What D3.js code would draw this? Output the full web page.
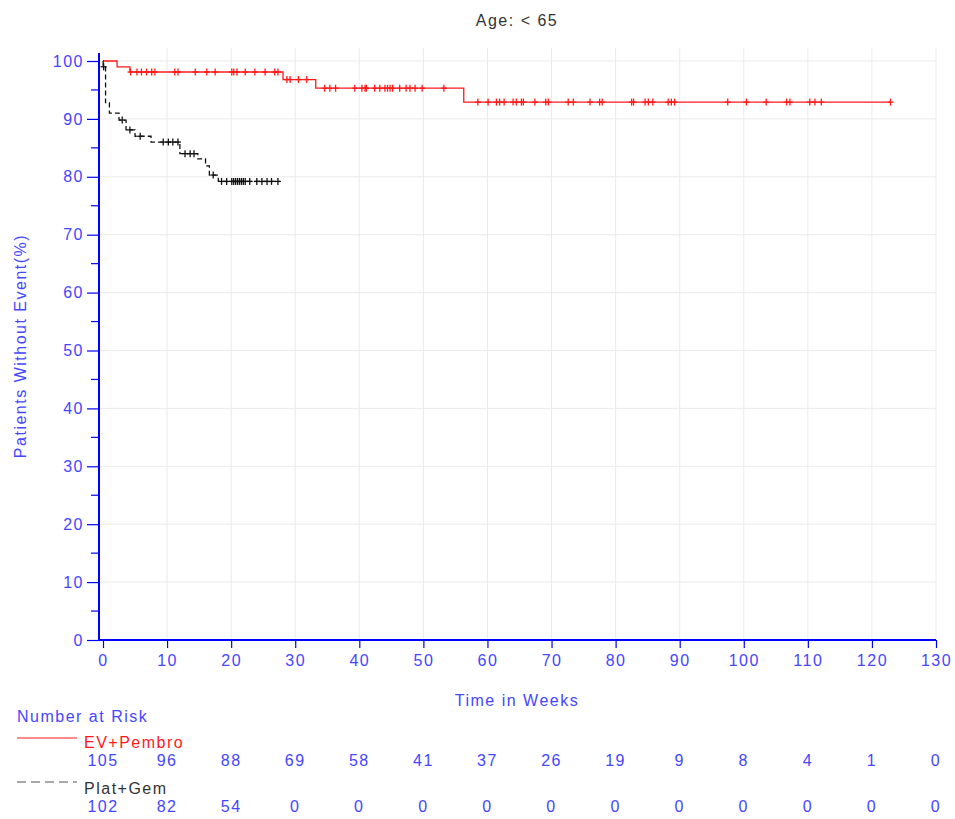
<!DOCTYPE html>
<html>
<head>
<meta charset="utf-8">
<script src="https://cdn.jsdelivr.net/npm/d3@7"></script>
<style>
  body { margin: 0; background: #fff; }
  svg text { font-family: "Liberation Sans", Arial, sans-serif; font-size: 16px; letter-spacing: 1.5px; }
</style>
</head>
<body>
<svg id="chart" width="955" height="819"></svg>
<script>
// ---- data ----
const title = "Age: < 65";
const xTickValues = [0, 10, 20, 30, 40, 50, 60, 70, 80, 90, 100, 110, 120, 130];
const yTickValues = [0, 10, 20, 30, 40, 50, 60, 70, 80, 90, 100];
const yMinorTicks = [5, 15, 25, 35, 45, 55, 65, 75, 85, 95];

// EV+Pembro: step times (weeks) and survival (%) after each step
const evTimes = [0, 2.2, 4.2, 28.1, 33.2, 56.3];
const evSurv = [100, 99.0, 98.1, 96.8, 95.3, 92.9];
const evEnd = 122.9;
const evCensored = [4.3, 5.3, 6.0, 6.8, 7.6, 8.1, 11.2, 11.7, 14.4, 16.2, 17.5, 20.1, 20.4, 20.9,
  22.2, 23.7, 25.3, 26.8, 27.3, 28.7, 29.2, 30.5, 31.8, 34.6, 35.4, 36.3, 39.3, 40.4, 40.9, 41.1,
  42.4, 43.2, 44.0, 44.4, 44.8, 45.2, 46.3, 47.3, 47.9, 48.7, 49.8, 53.2, 58.5, 60.1, 61.4, 61.9,
  62.6, 64.0, 64.5, 65.3, 65.6, 67.4, 69.1, 69.5, 72.6, 73.4, 76.0, 77.5, 77.9, 82.5, 82.8, 84.6,
  85.1, 85.8, 88.2, 88.7, 89.2, 97.5, 100.4, 103.5, 106.7, 107.2, 110.3, 111.1, 112.1, 122.9];

// Plat+Gem
const pgTimes = [0, 0.02, 0.4, 1.0, 2.5, 3.6, 5.0, 7.5, 12.0, 14.8, 16.0, 16.6, 18.0];
const pgSurv = [100, 99.0, 92.8, 91.0, 89.8, 88.1, 87.0, 86.0, 84.0, 83.1, 81.9, 80.3, 79.2];
const pgEnd = 27.6;
const pgCensored = [0.1, 3.0, 4.2, 5.8, 9.4, 10.2, 10.9, 11.7, 12.8, 13.6, 14.2, 17.2, 18.5, 19.3,
  20.1, 20.4, 20.7, 21.0, 21.3, 21.6, 21.9, 22.2, 22.9, 24.0, 24.8, 25.6, 26.3, 27.3];

// number at risk at each x tick
const evRisk = [105, 96, 88, 69, 58, 41, 37, 26, 19, 9, 8, 4, 1, 0];
const pgRisk = [102, 82, 54, 0, 0, 0, 0, 0, 0, 0, 0, 0, 0, 0];

// ---- drawing ----
const blue = "#0000ff";
const textBlue = "#4646ff";
const svg = d3.select("#chart");

const x = d3.scaleLinear().domain([0, 130]).range([103, 936]);
const y = d3.scaleLinear().domain([0, 100]).range([640, 61]);
const plotLeft = 99, plotTop = 48;

// grid
const grid = svg.append("g").attr("stroke", "#ebebeb").attr("stroke-width", 1);
grid.selectAll("line.v").data(xTickValues.filter(d => d > 0)).join("line")
  .attr("x1", d => x(d)).attr("x2", d => x(d))
  .attr("y1", plotTop).attr("y2", y(0));
grid.selectAll("line.h").data(yTickValues.filter(d => d > 0)).join("line")
  .attr("x1", plotLeft).attr("x2", x(130))
  .attr("y1", d => y(d)).attr("y2", d => y(d));

// axes
const xAxis = d3.axisBottom(x).tickValues(xTickValues).tickSize(8).tickPadding(7);
const gx = svg.append("g").attr("transform", `translate(0,${y(0)})`).call(xAxis);
gx.select(".domain").remove();
gx.selectAll(".tick line").attr("stroke", blue).attr("stroke-width", 1.2);
gx.selectAll(".tick text").attr("fill", textBlue).attr("font-size", 16)
  .attr("font-family", "Liberation Sans, Arial, sans-serif");

const yAxis = d3.axisLeft(y).tickValues(yTickValues).tickSize(12).tickPadding(3);
const gy = svg.append("g").attr("transform", `translate(${plotLeft},0)`).call(yAxis);
gy.select(".domain").remove();
gy.selectAll(".tick line").attr("stroke", blue).attr("stroke-width", 1.2);
gy.selectAll(".tick text").attr("fill", textBlue).attr("font-size", 16)
  .attr("font-family", "Liberation Sans, Arial, sans-serif");
svg.append("g").selectAll("line").data(yMinorTicks).join("line")
  .attr("x1", plotLeft - 8).attr("x2", plotLeft)
  .attr("y1", d => y(d)).attr("y2", d => y(d))
  .attr("stroke", blue).attr("stroke-width", 1.2);

svg.append("line").attr("x1", plotLeft).attr("x2", plotLeft)
  .attr("y1", 53).attr("y2", y(0) + 1).attr("stroke", blue).attr("stroke-width", 2);
svg.append("line").attr("x1", plotLeft - 1).attr("x2", x(130))
  .attr("y1", y(0)).attr("y2", y(0)).attr("stroke", blue).attr("stroke-width", 2);

// titles
svg.append("text").attr("x", 517).attr("y", 26).attr("text-anchor", "middle")
  .attr("fill", "#333").text(title);
svg.append("text").attr("x", 517).attr("y", 706).attr("text-anchor", "middle")
  .attr("fill", textBlue).text("Time in Weeks");
svg.append("text").attr("transform", "translate(26,346) rotate(-90)").attr("text-anchor", "middle")
  .attr("fill", textBlue).text("Patients Without Event(%)");

// Kaplan-Meier curves
function survAt(times, surv, t) {
  let s = surv[0];
  for (let i = 0; i < times.length; i++) if (times[i] <= t) s = surv[i];
  return s;
}
const stepLine = d3.line().x(d => x(d[0])).y(d => y(d[1])).curve(d3.curveStepAfter);

function drawCurve(times, surv, end, censored, color, dash) {
  const pts = times.map((t, i) => [t, surv[i]]);
  pts.push([end, surv[surv.length - 1]]);
  svg.append("path").attr("d", stepLine(pts)).attr("fill", "none")
    .attr("stroke", color).attr("stroke-width", 1.3)
    .attr("stroke-dasharray", dash);
  const g = svg.append("g").attr("stroke", color).attr("stroke-width", 1.3);
  censored.forEach(t => {
    const cx = x(t), cy = y(survAt(times, surv, t));
    g.append("line").attr("x1", cx).attr("x2", cx).attr("y1", cy - 3.5).attr("y2", cy + 3.5);
    g.append("line").attr("x1", cx - 3).attr("x2", cx + 3).attr("y1", cy).attr("y2", cy);
  });
}
drawCurve(evTimes, evSurv, evEnd, evCensored, "#ff1a1a", null);
drawCurve(pgTimes, pgSurv, pgEnd, pgCensored, "#111", "5,3");

// number at risk table
svg.append("text").attr("x", 17).attr("y", 722).attr("fill", textBlue).text("Number at Risk");
svg.append("line").attr("x1", 17).attr("x2", 77).attr("y1", 738).attr("y2", 738)
  .attr("stroke", "#ff1a1a").attr("stroke-width", 1.2);
svg.append("text").attr("x", 84).attr("y", 748).attr("fill", "#ff1a1a").text("EV+Pembro");
svg.append("line").attr("x1", 17).attr("x2", 77).attr("y1", 782).attr("y2", 782)
  .attr("stroke", "#555").attr("stroke-width", 1.2).attr("stroke-dasharray", "9,5");
svg.append("text").attr("x", 84).attr("y", 794).attr("fill", "#333").text("Plat+Gem");

svg.append("g").selectAll("text").data(evRisk).join("text")
  .attr("x", (d, i) => x(xTickValues[i])).attr("y", 766).attr("text-anchor", "middle")
  .attr("fill", textBlue).text(d => d);
svg.append("g").selectAll("text").data(pgRisk).join("text")
  .attr("x", (d, i) => x(xTickValues[i])).attr("y", 812).attr("text-anchor", "middle")
  .attr("fill", textBlue).text(d => d);
</script>
</body>
</html>
